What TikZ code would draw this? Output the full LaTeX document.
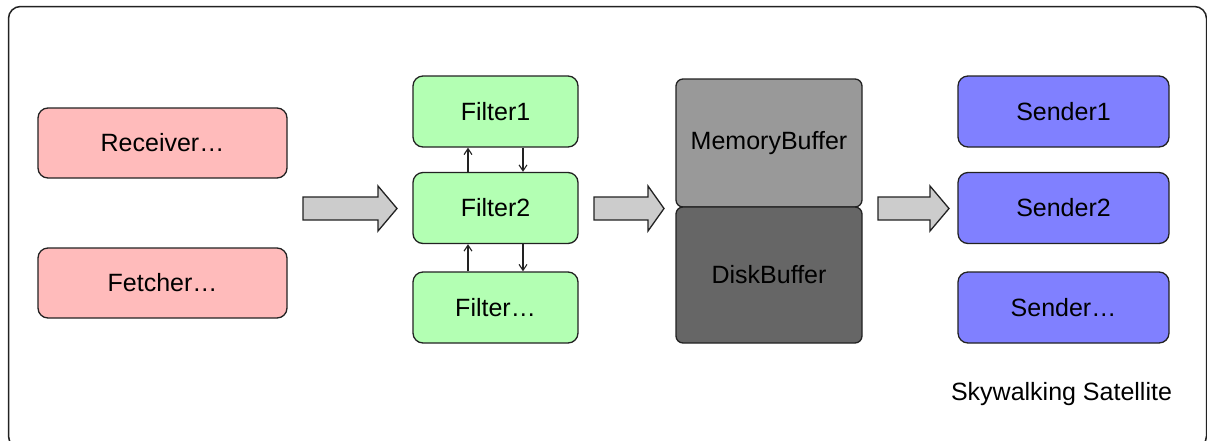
\documentclass[tikz,border=0pt]{standalone}
\usepackage{fontspec}
\setmainfont{Liberation Sans}
\usetikzlibrary{arrows.meta,calc}

\definecolor{srcfill}{HTML}{FFBBBB}
\definecolor{filterfill}{HTML}{B3FFB3}
\definecolor{memfill}{HTML}{999999}
\definecolor{diskfill}{HTML}{666666}
\definecolor{sendfill}{HTML}{8080FF}
\definecolor{flowfill}{HTML}{CCCCCC}
\definecolor{ink}{HTML}{222222}

\tikzset{
  label font/.style={font=\fontsize{25}{29}\selectfont},
  box/.style={draw=ink, line width=1.3pt, rounded corners=10pt,
    inner sep=0pt, text=black, label font},
  srcbox/.style={box, fill=srcfill, minimum width=249pt, minimum height=70pt},
  filterbox/.style={box, fill=filterfill, minimum width=165pt, minimum height=71pt},
  sendbox/.style={box, fill=sendfill, minimum width=211pt, minimum height=71pt},
  bufbox/.style={box, rounded corners=7pt, minimum width=186pt},
  link/.style={draw=ink, line width=1.1pt, -{Straight Barb[length=6pt,width=8pt,line width=1.1pt]}},
  flow/.style={draw=ink, line width=1.3pt, fill=flowfill, line join=miter},
}

% block arrow: #1 = left x, #2 = head start x, #3 = tip x
\newcommand{\flowarrow}[3]{%
  \path[flow] (#1,197) -- (#2,197) -- (#2,186) -- (#3,208.5)
    -- (#2,231) -- (#2,220) -- (#1,220) -- cycle;}

\begin{document}
\begin{tikzpicture}[x=1pt,y=-1pt]
  \useasboundingbox (0,0) rectangle (1207,440);
  \begin{scope}
    \clip (0,0) rectangle (1207,440);
    \draw[ink, line width=1.5pt, rounded corners=12pt] (8.5,6.5) rectangle (1206.5,448);
  \end{scope}

  % sources
  \node[srcbox] (recv) at (162.5,143) {Receiver…};
  \node[srcbox] (fetch) at (162.5,283) {Fetcher…};

  % filter chain
  \node[filterbox] (f1) at (495.5,111.5) {Filter1};
  \node[filterbox] (f2) at (495.5,208) {Filter2};
  \node[filterbox] (f3) at (495.5,307.5) {Filter…};

  \draw[link] ([xshift=-27.5pt]f2.north) -- ([xshift=-27.5pt]f1.south);
  \draw[link] ([xshift=27.5pt]f1.south) -- ([xshift=27.5pt]f2.north);
  \draw[link] ([xshift=-27.5pt]f3.north) -- ([xshift=-27.5pt]f2.south);
  \draw[link] ([xshift=27.5pt]f2.south) -- ([xshift=27.5pt]f3.north);

  % buffers
  \node[bufbox, fill=memfill, minimum height=128pt] (mem) at (769,143) {MemoryBuffer};
  \node[bufbox, fill=diskfill, minimum height=136pt] (disk) at (769,275) {DiskBuffer};

  % senders
  \node[sendbox] (s1) at (1063.5,111.5) {Sender1};
  \node[sendbox] (s2) at (1063.5,208) {Sender2};
  \node[sendbox] (s3) at (1063.5,307.5) {Sender…};

  % data flow between stages
  \flowarrow{303}{378}{397}
  \flowarrow{594}{648}{664}
  \flowarrow{878}{930}{949}

  \node[label font, text=black, anchor=base, inner sep=0pt] (title) at (1061.5,400) {Skywalking Satellite};
\end{tikzpicture}
\end{document}
